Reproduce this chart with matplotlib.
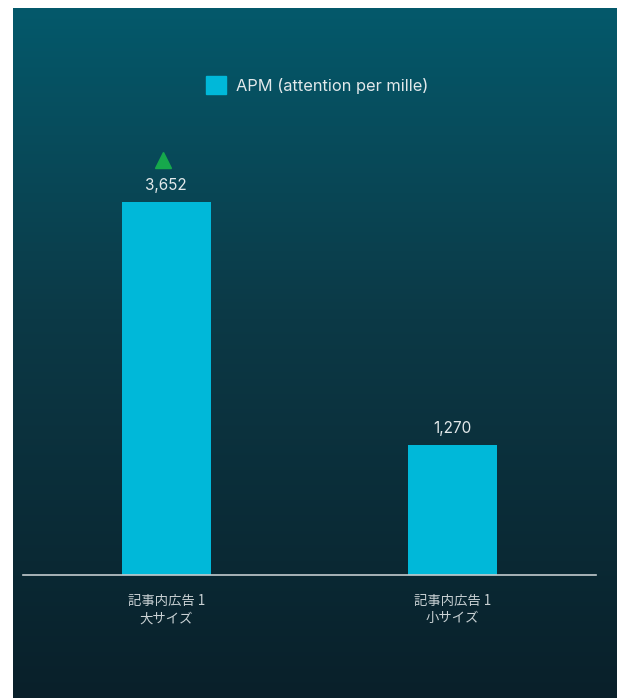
import numpy as np
import matplotlib.pyplot as plt
import matplotlib.patches as mpatches
import matplotlib.transforms as mtransforms
from matplotlib.colors import LinearSegmentedColormap

categories = ['記事内広告 1\n大サイズ', '記事内広告 1\n小サイズ']
apm = [3652, 1270]
value_labels = ['3,652', '1,270']
series_name = 'APM (attention per mille)'

W, H = 620, 698
fig = plt.figure(figsize=(W / 100, H / 100), dpi=100)
fig.patch.set_facecolor('white')

# gradient panel behind the chart
bg = fig.add_axes([13 / W, 0, 604 / W, 690 / H], zorder=-1)
grad = np.linspace(0, 1, 256).reshape(-1, 1)
cmap = LinearSegmentedColormap.from_list(
    'panel', [(0.0, '#04596b'), (0.45, '#0c3946'), (1.0, '#09202a')])
bg.imshow(grad, aspect='auto', cmap=cmap, extent=[0, 1, 0, 1], origin='upper')
bg.set_axis_off()

ax = fig.add_axes([23 / W, (H - 575) / H, 573 / W, (575 - 140) / H])
ax.set_facecolor('none')
x = np.arange(len(categories))
bars = ax.bar(x, apm, width=0.31, color='#00b8d9', zorder=2)
ax.set_xlim(-0.5, len(categories) - 0.5)
ax.set_ylim(0, 4260)

for xi, v, lab in zip(x, apm, value_labels):
    ax.annotate(lab, (xi, v), xytext=(0, 9), textcoords='offset pixels',
                ha='center', va='bottom', color='#e3e9eb', fontsize=11,
                family=['Inter', 'DejaVu Sans'])

# green up-arrow above the first bar
tri = mtransforms.offset_copy(ax.transData, fig=fig, x=-3, y=42, units='dots')
ax.plot(x[0], apm[0], marker='^', markersize=11, color='#16a84c',
        transform=tri, clip_on=False, zorder=3)

ax.set_xticks(x)
ax.set_xticklabels(categories, fontsize=9.6, color='#c9d1d4', linespacing=1.25,
                   family=['Noto Sans CJK JP', 'DejaVu Sans'])
ax.tick_params(axis='x', length=0, pad=14)
ax.set_yticks([])
for s in ['top', 'right', 'left']:
    ax.spines[s].set_visible(False)
ax.spines['bottom'].set_color('#c3cbce')
ax.spines['bottom'].set_linewidth(1.2)

handle = mpatches.Patch(color='#00b8d9', label=series_name)
fig.legend(handles=[handle], loc='center', bbox_to_anchor=(317 / W, 1 - 85 / H),
           frameon=False, handlelength=1.25, handleheight=1.25,
           handletextpad=0.6, labelcolor='#e3e9eb',
           prop={'family': ['Inter', 'DejaVu Sans'], 'size': 11.8})

fig.savefig('out.png', dpi=100)
